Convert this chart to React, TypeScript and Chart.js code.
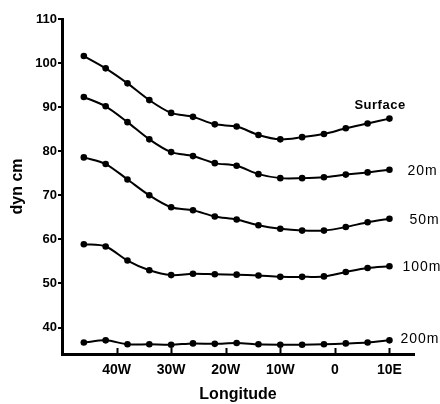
import React, { useEffect, useRef } from "react";
import { Chart, registerables } from "chart.js";

Chart.register(...registerables);

const longitudes = [-46, -42, -38, -34, -30, -26, -22, -18, -14, -10, -6, -2, 2, 6, 10];
const surface = [101.6, 98.8, 95.4, 91.6, 88.7, 87.8, 86.1, 85.6, 83.7, 82.7, 83.2, 83.9, 85.2, 86.3, 87.4];
const m20 = [92.3, 90.2, 86.6, 82.7, 79.8, 78.9, 77.3, 76.7, 74.8, 73.9, 73.9, 74.1, 74.7, 75.2, 75.8];
const m50 = [78.6, 77.1, 73.6, 70.0, 67.3, 66.6, 65.2, 64.5, 63.2, 62.4, 62.0, 62.0, 62.8, 63.9, 64.7];
const m100 = [58.9, 58.4, 55.2, 53.0, 51.9, 52.2, 52.1, 52.0, 51.8, 51.5, 51.5, 51.6, 52.6, 53.5, 53.9];
const m200 = [36.6, 37.1, 36.2, 36.2, 36.1, 36.4, 36.3, 36.5, 36.2, 36.1, 36.1, 36.2, 36.4, 36.6, 37.1];
const seriesNames = ["Surface", "20m", "50m", "100m", "200m"];
const xTickValues = [-40, -30, -20, -10, 0, 10];
const xTickLabels = ["40W", "30W", "20W", "10W", "0", "10E"];
const yTickValues = [40, 50, 60, 70, 80, 90, 100, 110];

const FONT = "'Liberation Sans', Arial, sans-serif";

const labelPlugin = {
  id: "seriesLabels",
  afterDatasetsDraw(chart: any) {
    const ctx = chart.ctx;
    const xs = chart.scales.x;
    const ys = chart.scales.y;
    // series end labels
    const offsets = [
      { dx: -35, dy: -13, font: "bold 13px " + FONT },
      { dx: 18, dy: 1, font: "14px " + FONT },
      { dx: 20, dy: 1, font: "14px " + FONT },
      { dx: 13, dy: 1, font: "14px " + FONT },
      { dx: 11, dy: -1, font: "14px " + FONT },
    ];
    ctx.save();
    ctx.fillStyle = "#000";
    ctx.textBaseline = "middle";
    ctx.textAlign = "left";
    chart.data.datasets.forEach((ds: any, i: number) => {
      const last = ds.data[ds.data.length - 1];
      const px = xs.getPixelForValue(last.x);
      const py = ys.getPixelForValue(last.y);
      ctx.font = offsets[i].font;
      (ctx as any).letterSpacing = i === 0 ? "0.5px" : "1px";
      ctx.fillText(seriesNames[i], px + offsets[i].dx, py + offsets[i].dy);
    });
    (ctx as any).letterSpacing = "0px";
    // inward x ticks
    ctx.strokeStyle = "#000";
    ctx.lineWidth = 2;
    const bottom = chart.chartArea.bottom;
    xTickValues.forEach((v) => {
      const px = Math.round(xs.getPixelForValue(v)) + 0.5;
      ctx.beginPath();
      ctx.moveTo(px, bottom);
      ctx.lineTo(px, bottom - 6);
      ctx.stroke();
    });
    ctx.restore();
  },
};

export default function App() {
  const ref = useRef<HTMLCanvasElement | null>(null);
  useEffect(() => {
    document.body.style.margin = "0";
    const mk = (arr: number[]) => arr.map((y, i) => ({ x: longitudes[i], y }));
    const all = [surface, m20, m50, m100, m200];
    const chart = new Chart(ref.current as HTMLCanvasElement, {
      type: "line",
      data: {
        datasets: all.map((arr, i) => ({
          label: seriesNames[i],
          data: mk(arr),
          borderColor: "#000",
          backgroundColor: "#000",
          borderWidth: 2,
          pointRadius: 3.3,
          pointBackgroundColor: "#000",
          pointBorderWidth: 0,
          tension: 0.3,
          fill: false,
        })),
      },
      options: {
        animation: false,
        responsive: false,
        devicePixelRatio: 1,
        layout: { padding: { top: 19, right: 26, left: 0, bottom: 0 } },
        plugins: { legend: { display: false }, tooltip: { enabled: false } },
        scales: {
          x: {
            type: "linear",
            min: -50,
            max: 14.5,
            afterFit: (s: any) => {
              s.height = 50;
            },
            afterBuildTicks: (s: any) => {
              s.ticks = xTickValues.map((v) => ({ value: v }));
            },
            ticks: {
              color: "#000",
              font: { family: FONT, size: 14, weight: "bold" },
              padding: 8,
              maxRotation: 0,
              autoSkip: false,
              callback: (v: any) => {
                const i = xTickValues.indexOf(Number(v));
                return i >= 0 ? xTickLabels[i] : "";
              },
            },
            grid: { display: true, drawOnChartArea: false, drawTicks: false, color: "rgba(0,0,0,0)" },
            border: { display: true, color: "#000", width: 3 },
            title: {
              display: true,
              text: "Longitude",
              color: "#000",
              font: { family: FONT, size: 16, weight: "bold" },
              padding: { top: 0, bottom: 0 },
            },
          },
          y: {
            type: "linear",
            min: 34,
            max: 110,
            afterFit: (s: any) => {
              s.width = 62;
            },
            afterBuildTicks: (s: any) => {
              s.ticks = yTickValues.map((v) => ({ value: v }));
            },
            ticks: {
              color: "#000",
              font: { family: FONT, size: 13, weight: "bold" },
              padding: 1,
            },
            grid: { display: true, drawOnChartArea: false, drawTicks: true, tickLength: 4, color: "#000", lineWidth: 2 },
            border: { display: true, color: "#000", width: 3 },
            title: {
              display: true,
              text: "dyn cm",
              color: "#000",
              font: { family: FONT, size: 16, weight: "bold" },
              padding: { top: 8, bottom: 0 },
            },
          },
        },
      },
      plugins: [labelPlugin],
    } as any);
    return () => chart.destroy();
  }, []);
  return (
    <div style={{ position: "fixed", left: 0, top: 0, width: 440, height: 404, background: "#fff" }}>
      <canvas ref={ref} width={440} height={404} style={{ width: 440, height: 404, display: "block" }} />
    </div>
  );
}
